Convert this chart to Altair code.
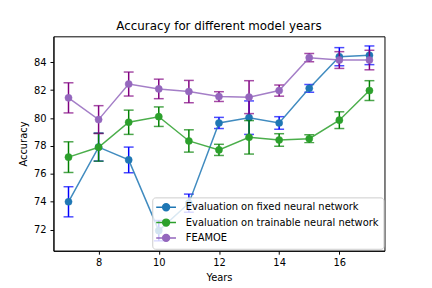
import altair as alt
import pandas as pd

years = list(range(7, 18))
series_names = [
    "Evaluation on fixed neural network",
    "Evaluation on trainable neural network",
    "FEAMOE",
]
fixed_mean = [74.0, 77.92, 77.0, 71.93, 73.9, 79.65, 80.03, 79.65, 82.13, 84.4, 84.5]
fixed_err = [1.08, 1.0, 0.92, 0.73, 0.65, 0.4, 1.2, 0.45, 0.28, 0.65, 0.67]
trainable_mean = [77.2, 77.91, 79.7, 80.1, 78.36, 77.72, 78.62, 78.43, 78.52, 79.85, 81.97]
trainable_err = [1.1, 1.0, 0.87, 0.7, 0.8, 0.4, 1.2, 0.45, 0.28, 0.6, 0.71]
feamoe_mean = [81.45, 79.89, 82.44, 82.09, 81.9, 81.54, 81.5, 81.97, 84.33, 84.16, 84.16]
feamoe_err = [1.08, 1.0, 0.86, 0.7, 0.8, 0.35, 1.18, 0.4, 0.3, 0.6, 0.7]

line_colors = ["#1f77b4", "#2ca02c", "#9467bd"]
err_colors = ["#0000ff", "#008000", "#800080"]

x_ticks = [8, 10, 12, 14, 16]
y_ticks = [72, 74, 76, 78, 80, 82, 84]

rows = []
for name, means, errs, ec in zip(
    series_names,
    [fixed_mean, trainable_mean, feamoe_mean],
    [fixed_err, trainable_err, feamoe_err],
    err_colors,
):
    for yr, m, e in zip(years, means, errs):
        rows.append(dict(year=yr, series=name, mean=m, lo=m - e, hi=m + e, ecolor=ec))
df = pd.DataFrame(rows)

FONT = "DejaVu Sans"

x_enc = alt.X(
    "year:Q",
    scale=alt.Scale(domain=[6.5, 17.5], nice=False, zero=False),
    axis=alt.Axis(values=x_ticks, format="d", title="Years"),
)
y_scale = alt.Scale(domain=[70.49, 85.86], nice=False, zero=False)
y_axis = alt.Axis(values=y_ticks, format="d", title="Accuracy")

# legend glyph: short line with a filled circle (unit box = 10 px, line spans +-2 units)
r = 0.7
k = 0.552 * r
sym_path = (
    "M-2,0L2,0"
    f"M{-r},0C{-r},{-k} {-k},{-r} 0,{-r}"
    f"C{k},{-r} {r},{-k} {r},0"
    f"C{r},{k} {k},{r} 0,{r}"
    f"C{-k},{r} {-r},{k} {-r},0Z"
)

legend = alt.Legend(
    title=None,
    orient="none",
    legendX=100,
    legendY=163,
    symbolType=sym_path,
    symbolSize=100,
    symbolStrokeWidth=1.5,
    symbolOpacity=1,
    symbolOffset=4,
    labelFont=FONT,
    labelFontSize=10,
    labelColor="black",
    labelOffset=14,
    labelLimit=300,
    padding=4,
    rowPadding=1.5,
    fillColor="rgba(255,255,255,0.8)",
    strokeColor="#cccccc",
    cornerRadius=3,
)

series_scale = alt.Scale(domain=series_names, range=line_colors)
stroke_enc = alt.Stroke("series:N", scale=series_scale, legend=legend)
fill_enc = alt.Fill("series:N", scale=series_scale, legend=legend)

base = alt.Chart(df)
layers = []
for name in series_names:
    b = base.transform_filter(alt.datum.series == name)
    err = b.mark_rule(strokeWidth=1.5).encode(
        x=x_enc,
        y=alt.Y("lo:Q", scale=y_scale, axis=y_axis),
        y2="hi:Q",
        color=alt.Color("ecolor:N", scale=None),
    )
    cap_lo = b.mark_tick(orient="horizontal", size=10, thickness=1.5).encode(
        x=x_enc,
        y=alt.Y("lo:Q", scale=y_scale, axis=y_axis),
        color=alt.Color("ecolor:N", scale=None),
    )
    cap_hi = b.mark_tick(orient="horizontal", size=10, thickness=1.5).encode(
        x=x_enc,
        y=alt.Y("hi:Q", scale=y_scale, axis=y_axis),
        color=alt.Color("ecolor:N", scale=None),
    )
    line = b.mark_line(strokeWidth=1.5, opacity=0.85).encode(
        x=x_enc,
        y=alt.Y("mean:Q", scale=y_scale, axis=y_axis),
        stroke=stroke_enc,
    )
    pts = b.mark_point(filled=True, size=52, opacity=1, strokeWidth=0.5, shape="circle").encode(
        x=x_enc,
        y=alt.Y("mean:Q", scale=y_scale, axis=y_axis),
        fill=fill_enc,
        stroke=stroke_enc,
    )
    layers += [err, cap_lo, cap_hi, line, pts]

chart = (
    alt.layer(*layers)
    .properties(
        width=335,
        height=217,
        title=alt.TitleParams(
            "Accuracy for different model years",
            font=FONT,
            fontSize=12,
            fontWeight="normal",
            color="black",
            anchor="middle",
            baseline="alphabetic",
            offset=7,
            dy=13,
        ),
        autosize=alt.AutoSizeParams(type="none"),
        padding={"left": 46, "top": 27, "right": 40, "bottom": 33},
    )
    .configure_view(stroke="black", strokeWidth=1)
    .configure_axis(
        grid=False,
        domainColor="black",
        domainWidth=1,
        tickColor="black",
        tickSize=3.5,
        tickWidth=1,
        labelFont=FONT,
        labelFontSize=10,
        labelColor="black",
        titleFont=FONT,
        titleFontSize=10,
        titleFontWeight="normal",
        titleColor="black",
    )
    .configure_axisX(labelPadding=3, titlePadding=6)
    .configure_axisY(labelPadding=4, titlePadding=5)
)

chart.save("out.html", embed_options={"renderer": "svg", "actions": False})
